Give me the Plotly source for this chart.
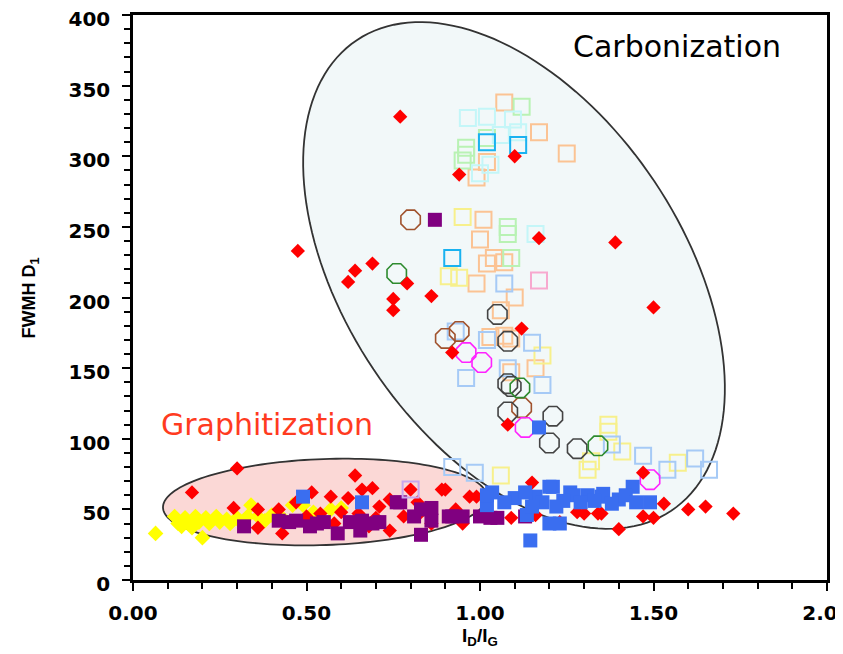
import math
import plotly.graph_objects as go

# ---------------- data ----------------
red_x = [0.77, 0.94, 1.10, 0.475, 0.62, 0.64, 0.69, 0.79, 0.75, 0.75, 0.86, 1.39, 1.50, 1.17, 1.12, 0.92, 1.08, 1.47,
         1.53, 1.60, 1.65, 1.73, 1.40, 1.47, 1.50, 1.30, 1.34, 1.15, 0.99, 1.09, 1.35, 1.23, 1.28, 1.16,
         0.30, 0.17, 0.29, 0.36, 0.42, 0.43, 0.36, 0.515, 0.57, 0.62, 0.64, 0.66, 0.69, 0.74, 0.82, 0.89, 0.93,
         0.74, 0.70, 0.54, 0.80, 0.97, 0.71, 0.83, 0.95, 0.90, 0.60, 0.47, 0.50, 0.65, 0.78, 0.86, 0.58, 0.68]
red_y = [328, 287, 300, 233, 211, 219, 224, 210, 199, 191, 201, 239, 193, 242, 178, 161, 110, 76,
         54, 50, 52, 47, 36, 45, 44, 47, 47, 69, 59, 44, 47, 41, 48, 46,
         79, 62, 51, 50, 50, 33, 37, 62, 59, 58, 74, 64, 65, 57, 55, 64, 50,
         35, 44, 47, 64, 59, 52, 48, 40, 64, 48, 55, 45, 47, 45, 40, 40, 38]

yellow_x = [0.065, 0.20, 0.12, 0.13, 0.15, 0.16, 0.18, 0.19, 0.21, 0.22, 0.24, 0.25, 0.27, 0.28, 0.30,
            0.31, 0.33, 0.34, 0.36, 0.38, 0.40, 0.43, 0.46, 0.49, 0.52, 0.57, 0.60, 0.14, 0.17]
yellow_y = [33, 30, 45, 40, 44, 40, 45, 41, 44, 40, 45, 41, 43, 40, 44,
            41, 45, 53, 45, 42, 46, 44, 53, 53, 48, 50, 51, 38, 37]

purple_x = [0.87, 0.32, 0.42, 0.47, 0.51, 0.55, 0.59, 0.625, 0.655, 0.69, 0.71, 0.76, 0.81, 0.83, 0.86,
            0.91, 0.95, 1.03, 1.13, 0.53, 0.66, 0.77, 0.83, 0.86, 0.92, 1.00, 1.05, 0.45]
purple_y = [255, 38, 42, 42, 38, 41, 33, 41, 35, 40, 41, 55, 45, 32, 51,
            45, 45, 44, 45, 40, 42, 55, 50, 42, 45, 45, 44, 41]

blue_x = [0.49, 0.66, 1.035, 1.02, 1.145, 1.20, 1.135, 1.10, 1.16, 1.21, 1.26, 1.31, 1.355, 1.20, 1.27,
          1.35, 1.40, 1.44, 1.49, 1.23, 1.17, 1.07, 1.13, 1.18, 1.24, 1.29, 1.33, 1.38, 1.42, 1.15, 1.22,
          1.45, 1.02]
blue_y = [59, 55, 62, 53, 28, 40, 46, 58, 59, 66, 62, 60, 61, 66, 60,
          59, 57, 66, 55, 40, 108, 55, 62, 55, 56, 55, 56, 54, 60, 52, 52,
          55, 60]

orange_sq_x = [1.07, 1.17, 1.25, 1.02, 0.99, 1.01, 1.00, 1.04, 1.02, 1.07, 0.99, 1.10, 1.06, 1.03, 1.07,
               1.09, 1.09, 1.16]
orange_sq_y = [338, 317, 302, 296, 285, 255, 241, 228, 224, 225, 210, 200, 191, 172, 173, 171, 147, 150]

green_sq_x = [1.12, 1.02, 0.96, 0.96, 0.95, 1.08, 1.08, 1.09]
green_sq_y = [335, 313, 306, 301, 297, 250, 245, 228]

cyan_sq_x = [0.965, 1.02, 1.095, 1.11, 1.06, 1.03, 1.00, 1.16]
cyan_sq_y = [327, 328, 326, 317, 315, 294, 288, 245]

sky_sq_x = [1.02, 1.11, 0.92]
sky_sq_y = [310, 308, 228]

yellow_sq_x = [0.95, 0.91, 0.94, 1.18, 1.37, 1.37, 1.41, 1.32, 1.31, 1.57, 1.06]
yellow_sq_y = [257, 215, 214, 159, 110, 105, 91, 84, 78, 83, 74]

lblue_sq_x = [1.07, 0.96, 1.15, 1.08, 1.18, 1.38, 1.47, 1.54, 1.62, 1.66, 0.92, 0.985, 1.02, 0.93]
lblue_sq_y = [210, 143, 168, 150, 138, 96, 88, 78, 86, 78, 80, 76, 170, 176]

pink_sq_x = [1.17]
pink_sq_y = [212]

lav_sq_x = [0.80]
lav_sq_y = [64]

brown_c_x = [0.80, 0.90, 0.94, 1.12]
brown_c_y = [255, 171, 176, 122]

dark_c_x = [1.05, 1.08, 1.08, 1.09, 1.08, 1.21, 1.20, 1.28]
dark_c_y = [188, 169, 139, 137, 119, 116, 97, 93]

green_c_x = [0.76, 1.115, 1.34]
green_c_y = [217, 136, 95]

magenta_c_x = [0.96, 1.005, 1.13, 1.49]
magenta_c_y = [161, 154, 108, 71]

x_ticks = [0.0, 0.5, 1.0, 1.5, 2.0]
x_tick_text = ["0.00", "0.50", "1.00", "1.50", "2.00"]
y_ticks = [0, 50, 100, 150, 200, 250, 300, 350, 400]

# ---------------- figure ----------------
# the page body adds an 8 px offset, so the figure is 8 px smaller on each axis
W, H = 835, 646
ML, MR, MT, MB = 125, 16, 7, 74
PX_X = (W - ML - MR) / 2.0      # pixels per x unit
PX_Y = (H - MT - MB) / 400.0    # pixels per y unit


def ellipse_path(cx, cy, a_px, b_px, ang_deg, n=160):
    th = math.radians(ang_deg)
    parts = []
    for i in range(n + 1):
        t = 2 * math.pi * i / n
        u, v = a_px * math.cos(t), b_px * math.sin(t)
        dx = u * math.cos(th) - v * math.sin(th)
        dy = u * math.sin(th) + v * math.cos(th)
        parts.append(f"{cx + dx / PX_X:.5f},{cy + dy / PX_Y:.4f}")
    return "M " + " L ".join(parts) + " Z"


fig = go.Figure()


def add(xs, ys, symbol, size, color, line_color=None, line_width=0):
    fig.add_trace(go.Scatter(
        x=xs, y=ys, mode="markers", showlegend=False, hoverinfo="x+y",
        marker=dict(symbol=symbol, size=size, color=color,
                    line=dict(color=line_color or color, width=line_width))))


# open squares
add(orange_sq_x, orange_sq_y, "square-open", 16, "#fbc394", line_width=2)
add(green_sq_x, green_sq_y, "square-open", 16, "#b9f2b4", line_width=2)
add(cyan_sq_x, cyan_sq_y, "square-open", 16, "#c4f6f8", line_width=2)
add(sky_sq_x, sky_sq_y, "square-open", 16, "#1ab2f0", line_width=2)
add(yellow_sq_x, yellow_sq_y, "square-open", 16, "#f7f08c", line_width=2)
add(lblue_sq_x, lblue_sq_y, "square-open", 16, "#a6caf6", line_width=2)
add(pink_sq_x, pink_sq_y, "square-open", 16, "#f7a9cf", line_width=2)
# open octagons
add(brown_c_x, brown_c_y, "octagon-open", 21, "#a0522d", line_width=1.6)
add(dark_c_x, dark_c_y, "octagon-open", 21, "#444444", line_width=1.6)
add(green_c_x, green_c_y, "octagon-open", 21, "#2e8b2e", line_width=1.6)
add(magenta_c_x, magenta_c_y, "octagon-open", 21, "#ff22ff", line_width=1.6)
# filled markers
add(yellow_x, yellow_y, "diamond", 12, "#ffff00")
add(red_x, red_y, "diamond", 11, "#ff0000")
add(purple_x, purple_y, "square", 14, "#800080")
add(blue_x, blue_y, "square", 14, "#3a6ef0")
add(lav_sq_x, lav_sq_y, "square-open", 16, "#c9a6ee", line_width=2)

fig.add_shape(type="path", path=ellipse_path(1.098, 215.6, 283, 169, -56.25),
              xref="x", yref="y", layer="below",
              fillcolor="#f2f8f9", line=dict(color="#333333", width=1.8))
fig.add_shape(type="path", path=ellipse_path(0.553, 55.2, 162, 43, 2.0),
              xref="x", yref="y", layer="below",
              fillcolor="#fbd8d6", line=dict(color="#333333", width=1.8))

fig.add_annotation(x=1.568, y=378, xref="x", yref="y", text="Carbonization", showarrow=False,
                   font=dict(family="Comic Sans MS, DejaVu Sans", size=30, color="#000000"))
fig.add_annotation(x=0.386, y=110, xref="x", yref="y", text="Graphitization", showarrow=False,
                   font=dict(family="Comic Sans MS, DejaVu Sans", size=30, color="#ff3b1f"))

fig.add_annotation(x=-0.147, y=0.5, xref="paper", yref="paper", textangle=-90,
                   xanchor="center", yanchor="middle",
                   text="<b>FWMH D<sub>1</sub></b>", showarrow=False,
                   font=dict(family="Liberation Sans, Arial", size=18, color="#000000"))
fig.add_annotation(x=0.5, y=-0.101, xref="paper", yref="paper",
                   xanchor="center", yanchor="middle",
                   text="<b>I<sub>D</sub>/I<sub>G</sub></b>", showarrow=False,
                   font=dict(family="Liberation Sans, Arial", size=19, color="#000000"))

tickfont = dict(family="DejaVu Sans", size=20, color="#000000", weight="bold")

fig.update_xaxes(range=[0, 2], tickvals=x_ticks, ticktext=x_tick_text, ticks="outside",
                 ticklen=8, tickwidth=2, tickcolor="black", showline=True, linecolor="black",
                 linewidth=2.5, mirror=True, showgrid=False, zeroline=False, tickfont=tickfont,
                 ticklabelstandoff=5, automargin=False, ticklabeloverflow="allow",
                 minor=dict(ticks="outside", dtick=0.1, ticklen=6, tickwidth=2, tickcolor="black",
                            showgrid=False))
fig.update_yaxes(range=[0, 400], tickvals=y_ticks, ticks="outside",
                 ticklen=8, tickwidth=2, tickcolor="black", showline=True, linecolor="black",
                 linewidth=2.5, mirror=True, showgrid=False, zeroline=False, tickfont=tickfont,
                 ticklabelstandoff=8, ticklabelshift=4, automargin=False, ticklabeloverflow="allow",
                 minor=dict(ticks="outside", dtick=10, ticklen=6, tickwidth=2, tickcolor="black",
                            showgrid=False))

fig.update_layout(width=W, height=H, margin=dict(l=ML, r=MR, t=MT, b=MB, autoexpand=False),
                  paper_bgcolor="white", plot_bgcolor="white", showlegend=False)

fig.write_html("out.html")
